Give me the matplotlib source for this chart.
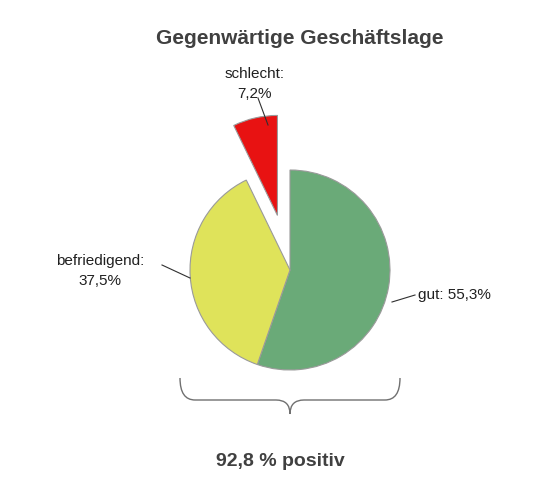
import matplotlib
matplotlib.use("Agg")
import matplotlib.pyplot as plt
from matplotlib.path import Path
from matplotlib.patches import PathPatch

plt.rcParams['font.family'] = ['Liberation Sans', 'DejaVu Sans']

labels = ["gut", "befriedigend", "schlecht"]
values = [55.3, 37.5, 7.2]
colors = ["#6aaa78", "#dfe35a", "#e81212"]
explode_px = [0, 0, 56]
title = "Gegenwärtige Geschäftslage"
summary = "92,8 % positiv"

W, H = 557, 495
fig = plt.figure(figsize=(W/100, H/100), dpi=100)
ax = fig.add_axes([0, 0, 1, 1])

def Y(p): return H - p

cx, cy, r = 290, Y(270), 100
ax.pie(values, colors=colors, startangle=90, counterclock=False, explode=explode_px,
       center=(cx, cy), radius=r, frame=True,
       wedgeprops=dict(edgecolor="#9a9a9a", linewidth=0.8))
ax.set_xlim(0, W); ax.set_ylim(0, H); ax.set_aspect("equal"); ax.axis("off")

ax.text(300, Y(38), title, ha="center", va="center", fontsize=15, fontweight="bold", color="#404040")
ax.text(255, Y(84), f"{labels[2]}:\n{values[2]:.1f}%".replace(".", ","), ha="center", va="center",
        fontsize=11, color="#202020", linespacing=1.6)
ax.text(100, Y(271), f"{labels[1]}:\n{values[1]:.1f}%".replace(".", ","), ha="center", va="center",
        fontsize=11, color="#202020", linespacing=1.6)
ax.text(418, Y(295), f"{labels[0]}: {values[0]:.1f}%".replace(".", ","), ha="left", va="center",
        fontsize=11, color="#202020")
ax.plot([392, 415], [Y(302), Y(295)], color="#303030", lw=0.8)
ax.plot([162, 190], [Y(265), Y(278)], color="#303030", lw=0.8)
ax.plot([258, 268], [Y(98), Y(125)], color="#303030", lw=0.8)

# brace
verts = [(180, Y(378)), (180, Y(400)), (195, Y(400)),
         (276, Y(400)), (290, Y(400)), (290, Y(414)),
         (290, Y(414)), (290, Y(400)), (304, Y(400)),
         (385, Y(400)), (400, Y(400)), (400, Y(378))]
codes = [Path.MOVETO, Path.CURVE3, Path.CURVE3,
         Path.LINETO, Path.CURVE3, Path.CURVE3,
         Path.MOVETO, Path.CURVE3, Path.CURVE3,
         Path.LINETO, Path.CURVE3, Path.CURVE3]
ax.add_patch(PathPatch(Path(verts, codes), fill=False, edgecolor="#707070", lw=1))

ax.text(280, Y(462), summary, ha="center", va="center", fontsize=14, fontweight="bold", color="#404040")
fig.savefig("out.png", dpi=100)
